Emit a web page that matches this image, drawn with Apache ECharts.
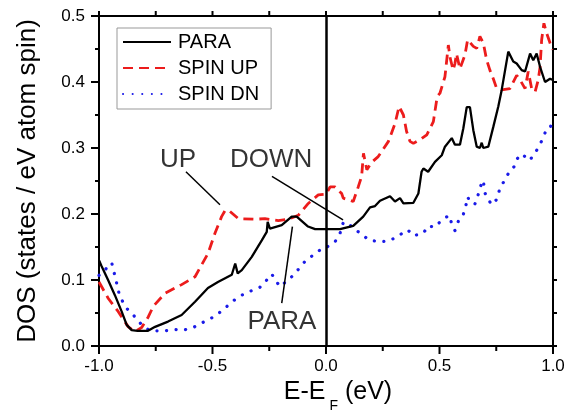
<!DOCTYPE html>
<html>
<head>
<meta charset="utf-8">
<script src="https://cdn.jsdelivr.net/npm/echarts@6/dist/echarts.min.js"></script>
<style>
	html, body { margin: 0; padding: 0; background: #fff; }
	#dos-chart { width: 573px; height: 414px; }
</style>
</head>
<body>
<div id="dos-chart"></div>
<script>
// ---------------- data ----------------
var paraE = [-1.00, -0.99, -0.96, -0.93, -0.90, -0.878, -0.856, -0.83, -0.784, -0.753, -0.696, -0.636, -0.577, -0.52, -0.476, -0.415, -0.40, -0.389, -0.371, -0.327, -0.283, -0.261, -0.257, -0.247, -0.195, -0.151, -0.129, -0.079, -0.048, 0.00, 0.062, 0.12, 0.164, 0.194, 0.216, 0.238, 0.282, 0.304, 0.326, 0.341, 0.385, 0.407, 0.421, 0.429, 0.45, 0.48, 0.51, 0.524, 0.554, 0.568, 0.59, 0.605, 0.62, 0.634, 0.649, 0.664, 0.678, 0.686, 0.693, 0.715, 0.737, 0.759, 0.774, 0.789, 0.803, 0.825, 0.84, 0.862, 0.877, 0.899, 0.913, 0.928, 0.943, 0.965, 0.987, 1.00];
var paraDos = [0.130, 0.122, 0.100, 0.077, 0.052, 0.032, 0.024, 0.023, 0.023, 0.029, 0.037, 0.047, 0.067, 0.088, 0.097, 0.108, 0.125, 0.110, 0.115, 0.135, 0.160, 0.173, 0.188, 0.178, 0.183, 0.196, 0.196, 0.181, 0.177, 0.177, 0.177, 0.182, 0.196, 0.210, 0.212, 0.220, 0.227, 0.219, 0.224, 0.216, 0.217, 0.231, 0.264, 0.269, 0.264, 0.279, 0.289, 0.302, 0.315, 0.305, 0.305, 0.330, 0.362, 0.362, 0.327, 0.302, 0.300, 0.308, 0.300, 0.302, 0.332, 0.363, 0.388, 0.418, 0.446, 0.431, 0.428, 0.418, 0.416, 0.443, 0.433, 0.443, 0.423, 0.400, 0.405, 0.403];

var upE = [-1.00, -0.959, -0.915, -0.871, -0.841, -0.812, -0.783, -0.761, -0.709, -0.636, -0.577, -0.52, -0.49, -0.46, -0.445, -0.43, -0.386, -0.313, -0.269, -0.21, -0.166, -0.122, -0.078, -0.034, 0.00, 0.018, 0.04, 0.069, 0.076, 0.12, 0.142, 0.157, 0.165, 0.18, 0.20, 0.23, 0.275, 0.304, 0.322, 0.341, 0.355, 0.37, 0.385, 0.42, 0.444, 0.473, 0.49, 0.502, 0.524, 0.539, 0.546, 0.56, 0.568, 0.575, 0.59, 0.612, 0.624, 0.649, 0.664, 0.678, 0.686, 0.693, 0.708, 0.722, 0.737, 0.752, 0.774, 0.81, 0.84, 0.855, 0.877, 0.891, 0.906, 0.921, 0.935, 0.943, 0.95, 0.96, 0.972, 0.987, 1.00];
var upDos = [0.097, 0.072, 0.052, 0.029, 0.022, 0.028, 0.044, 0.060, 0.080, 0.093, 0.105, 0.140, 0.170, 0.196, 0.205, 0.206, 0.193, 0.192, 0.193, 0.190, 0.192, 0.198, 0.216, 0.229, 0.230, 0.241, 0.241, 0.231, 0.224, 0.219, 0.241, 0.257, 0.292, 0.267, 0.278, 0.287, 0.310, 0.337, 0.363, 0.350, 0.325, 0.310, 0.307, 0.314, 0.320, 0.340, 0.378, 0.383, 0.408, 0.456, 0.438, 0.418, 0.428, 0.443, 0.420, 0.441, 0.464, 0.454, 0.451, 0.469, 0.471, 0.459, 0.433, 0.418, 0.405, 0.390, 0.388, 0.390, 0.410, 0.403, 0.390, 0.416, 0.390, 0.385, 0.403, 0.423, 0.464, 0.489, 0.474, 0.459, 0.449];

var dnE = [-1.00, -0.975, -0.944, -0.934, -0.922, -0.912, -0.90, -0.878, -0.841, -0.812, -0.775, -0.709, -0.665, -0.629, -0.585, -0.541, -0.496, -0.452, -0.415, -0.371, -0.327, -0.291, -0.261, -0.239, -0.217, -0.203, -0.159, -0.122, -0.093, -0.048, -0.012, 0.00, 0.04, 0.062, 0.076, 0.094, 0.128, 0.157, 0.186, 0.23, 0.275, 0.311, 0.341, 0.36, 0.385, 0.429, 0.45, 0.48, 0.502, 0.524, 0.543, 0.554, 0.568, 0.583, 0.602, 0.615, 0.624, 0.635, 0.656, 0.671, 0.683, 0.693, 0.70, 0.715, 0.73, 0.752, 0.767, 0.789, 0.81, 0.833, 0.843, 0.862, 0.88, 0.896, 0.902, 0.921, 0.935, 0.957, 0.972, 0.99, 1.00];
var dnDos = [0.107, 0.115, 0.126, 0.112, 0.095, 0.080, 0.070, 0.057, 0.044, 0.032, 0.023, 0.023, 0.025, 0.024, 0.028, 0.036, 0.044, 0.055, 0.067, 0.077, 0.084, 0.089, 0.100, 0.109, 0.097, 0.090, 0.102, 0.116, 0.128, 0.140, 0.149, 0.149, 0.158, 0.171, 0.187, 0.187, 0.176, 0.170, 0.161, 0.158, 0.159, 0.165, 0.172, 0.176, 0.167, 0.171, 0.182, 0.180, 0.188, 0.194, 0.198, 0.185, 0.175, 0.189, 0.196, 0.211, 0.226, 0.218, 0.215, 0.230, 0.244, 0.251, 0.232, 0.222, 0.214, 0.222, 0.240, 0.252, 0.266, 0.273, 0.284, 0.291, 0.286, 0.281, 0.278, 0.292, 0.301, 0.315, 0.330, 0.333, 0.345];

var seriesNames = ['PARA', 'SPIN UP', 'SPIN DN'];

// tick values
var xMajorTicks = [-1.0, -0.5, 0.0, 0.5, 1.0];
var xMinorTicks = [-0.75, -0.25, 0.25, 0.75];
var yMajorTicks = [0.0, 0.1, 0.2, 0.3, 0.4, 0.5];
var yMinorTicks = [0.05, 0.15, 0.25, 0.35, 0.45];

// annotation labels (centre of text) and their pointer lines, in data units
var noteText = ['UP', 'DOWN', 'PARA'];
var noteAt = [[-0.652, 0.282], [-0.242, 0.282], [-0.194, 0.036]];
var noteLineFrom = [[-0.617, 0.264], [-0.238, 0.257], [-0.195, 0.065]];
var noteLineTo = [[-0.467, 0.214], [0.075, 0.191], [-0.148, 0.181]];

// ---------------- chart ----------------
(function() {
	'use strict';

	var chart = echarts.init(document.getElementById('dos-chart'));
	var font = 'Liberation Sans, Arial, Helvetica, sans-serif';

	function pairs(xs, ys) {
		return xs.map(function(x, i) { return [x, ys[i]]; });
	}

	var notes = noteText.map(function(t, i) {
		return [noteAt[i][0], noteAt[i][1], t];
	});
	var pointers = noteLineFrom.map(function(p, i) {
		return [{ coord: p }, { coord: noteLineTo[i] }];
	});

	// tick marks: [value, side, length]; side 0 bottom, 1 top, 2 left, 3 right
	var tickMarks = [];
	xMajorTicks.forEach(function(v) { tickMarks.push([v, 0, 8], [v, 1, 5]); });
	xMinorTicks.forEach(function(v) { tickMarks.push([v, 0, 5], [v, 1, 5]); });
	yMajorTicks.forEach(function(v) { tickMarks.push([v, 2, 8], [v, 3, 4]); });
	yMinorTicks.forEach(function(v) { tickMarks.push([v, 2, 4], [v, 3, 4]); });

	function renderTick(params, api) {
		var v = api.value(0), side = api.value(1), len = api.value(2);
		var p, q;
		if (side === 0) { p = api.coord([v, 0]); q = [p[0], p[1] + len]; }
		else if (side === 1) { p = api.coord([v, 0.5]); q = [p[0], p[1] - len]; }
		else if (side === 2) { p = api.coord([-1, v]); q = [p[0] - len, p[1]]; }
		else { p = api.coord([1, v]); q = [p[0] + len, p[1]]; }
		return {
			type: 'line',
			shape: { x1: p[0], y1: p[1], x2: q[0], y2: q[1] },
			style: { stroke: '#000', lineWidth: 2 }
		};
	}

	function axisLine() {
		return { show: true, onZero: false, lineStyle: { color: '#000', width: 2 } };
	}

	var option = {
		animation: false,
		grid: { left: 99, right: 20, top: 16, bottom: 68, outerBoundsMode: 'none' },
		legend: {
			data: seriesNames,
			orient: 'vertical',
			left: 117,
			top: 28,
			padding: [4, 12, 5, 5],
			itemGap: 6,
			itemWidth: 48,
			itemHeight: 14,
			borderColor: '#999',
			borderWidth: 1,
			itemStyle: { opacity: 0 },
			textStyle: { fontFamily: font, fontSize: 20, color: '#000', lineHeight: 20, padding: [0, 0, 0, 2] }
		},
		xAxis: [{
			type: 'value',
			position: 'bottom',
			min: -1,
			max: 1,
			interval: 0.5,
			name: '{a|E-E}{s| F}{a| (eV)}',
			nameLocation: 'middle',
			nameGap: 29,
			nameTextStyle: {
				padding: [0, 0, 0, 24],
				rich: {
					a: { fontFamily: font, fontSize: 25, lineHeight: 30, verticalAlign: 'top', color: '#000' },
					s: { fontFamily: font, fontSize: 14, lineHeight: 16, padding: [19, 0, 0, 0], verticalAlign: 'top', color: '#000' }
				}
			},
			axisLine: axisLine(),
			axisTick: { show: false },
			splitLine: { show: false },
			axisLabel: {
				fontFamily: font,
				fontSize: 17,
				color: '#000',
				margin: 12,
				formatter: function(v) { return v.toFixed(1); }
			}
		}, {
			type: 'value',
			position: 'top',
			min: -1,
			max: 1,
			interval: 0.25,
			axisLine: axisLine(),
			axisTick: { show: false },
			axisLabel: { show: false },
			splitLine: { show: false }
		}],
		yAxis: [{
			type: 'value',
			position: 'left',
			min: 0,
			max: 0.5,
			interval: 0.1,
			name: 'DOS (states / eV atom spin)',
			nameLocation: 'middle',
			nameGap: 58,
			nameTextStyle: { fontFamily: font, fontSize: 26, color: '#000' },
			axisLine: axisLine(),
			axisTick: { show: false },
			splitLine: { show: false },
			axisLabel: {
				fontFamily: font,
				fontSize: 17,
				color: '#000',
				margin: 14,
				formatter: function(v) { return v.toFixed(1); }
			}
		}, {
			type: 'value',
			position: 'right',
			min: 0,
			max: 0.5,
			interval: 0.05,
			axisLine: axisLine(),
			axisTick: { show: false },
			axisLabel: { show: false },
			splitLine: { show: false }
		}],
		series: [{
			name: 'SPIN DN',
			type: 'line',
			data: pairs(dnE, dnDos),
			showSymbol: false,
			symbol: 'none',
			itemStyle: { color: '#1a1ae8' },
			lineStyle: { color: '#1a1ae8', width: 3.2, type: [0.1, 9.5], cap: 'round' },
			z: 2
		}, {
			name: 'SPIN UP',
			type: 'line',
			data: pairs(upE, upDos),
			showSymbol: false,
			symbol: 'none',
			itemStyle: { color: '#ec1c1c' },
			lineStyle: { color: '#ec1c1c', width: 2.8, type: [10, 6] },
			z: 3
		}, {
			name: 'PARA',
			type: 'line',
			data: pairs(paraE, paraDos),
			showSymbol: false,
			symbol: 'none',
			itemStyle: { color: '#000' },
			lineStyle: { color: '#000', width: 2.3 },
			z: 4
		}, {
			name: 'notes',
			type: 'scatter',
			data: notes,
			symbolSize: 0,
			silent: true,
			label: {
				show: true,
				position: 'inside',
				fontFamily: font,
				fontSize: 26,
				color: '#000',
				formatter: function(p) { return p.value[2]; }
			},
			markLine: {
				silent: true,
				symbol: ['none', 'none'],
				label: { show: false },
				lineStyle: { color: '#000', width: 1.5, type: 'solid' },
				data: pointers.concat([{ xAxis: 0, lineStyle: { color: '#000', width: 2.5, type: 'solid' } }])
			},
			z: 5
		}, {
			name: 'ticks',
			type: 'custom',
			data: tickMarks,
			encode: { x: 0 },
			clip: false,
			silent: true,
			renderItem: renderTick,
			z: 6
		}]
	};
	chart.setOption(option);
})();
</script>
</body>
</html>
